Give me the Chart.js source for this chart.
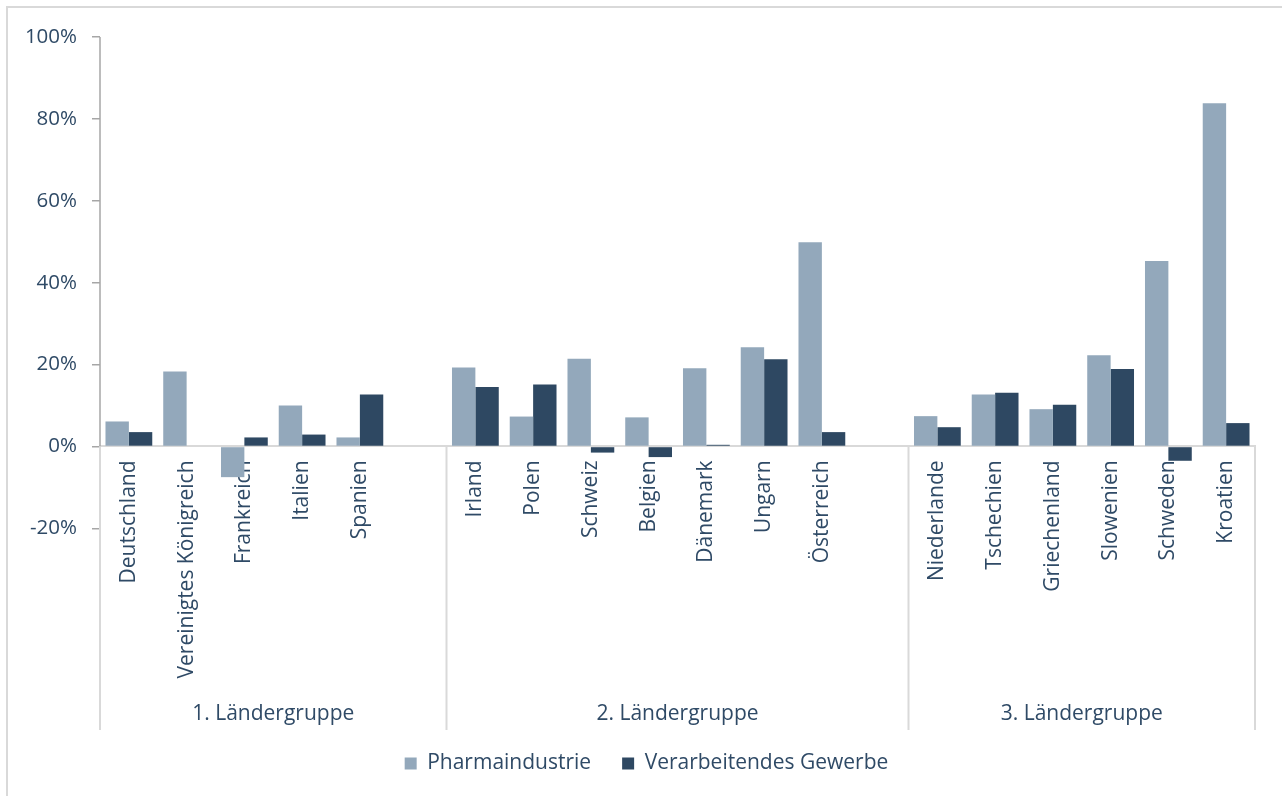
<!DOCTYPE html>
<html>
<head>
<meta charset="utf-8">
<script src="https://cdn.jsdelivr.net/npm/chart.js@4"></script>
<style>
  html, body { margin: 0; padding: 0; background: #fff; }
  #wrap { position: relative; width: 1282px; height: 796px; overflow: hidden; }
  #frame { position: absolute; left: 6px; top: 6px; width: 1290px; height: 800px;
           border-top: 2px solid #d9d9d9; border-left: 2px solid #d9d9d9; }
  canvas { position: absolute; left: 0; top: 0; }
</style>
</head>
<body>
<div id="wrap">
  <div id="frame"></div>
  <canvas id="chart" width="1282" height="796"></canvas>
</div>
<script>
// Kategorien (leere Einträge = Abstand zwischen den Gruppen)
const categories = [
  'Deutschland', 'Vereinigtes Königreich', 'Frankreich', 'Italien', 'Spanien', '',
  'Irland', 'Polen', 'Schweiz', 'Belgien', 'Dänemark', 'Ungarn', 'Österreich', '',
  'Niederlande', 'Tschechien', 'Griechenland', 'Slowenien', 'Schweden', 'Kroatien'
];
const pharma = [
  6.1, 18.3, -7.5, 10.0, 2.2, null,
  19.3, 7.3, 21.4, 7.1, 19.1, 24.2, 49.9, null,
  7.4, 12.7, 9.1, 22.3, 45.3, 83.8
];
const gewerbe = [
  3.5, null, 2.2, 2.9, 12.7, null,
  14.5, 15.1, -1.5, -2.6, 0.4, 21.3, 3.5, null,
  4.7, 13.1, 10.2, 18.9, -3.5, 5.7
];
const groupLabels = ['1. Ländergruppe', '2. Ländergruppe', '3. Ländergruppe'];
const groupSizes = [6, 8, 6];
const seriesNames = ['Pharmaindustrie', 'Verarbeitendes Gewerbe'];

const textColor = '#2f4a66';
const font = { family: "'Open Sans', sans-serif", size: 21 };
const yFont = { family: "'Open Sans', sans-serif", size: 20.5 };

// Gruppentrenner, Gruppennamen und y-Achsenlinie
const groupAxis = {
  id: 'groupAxis',
  afterLayout(chart) {
    // Legende etwas nach rechts, wie im Original
    chart.legend.left += 38;
  },
  afterDraw(chart) {
    const { ctx, chartArea } = chart;
    const xs = chart.scales.x, ys = chart.scales.y;
    const y0 = ys.getPixelForValue(0);
    const yEnd = chartArea.bottom + 8;
    ctx.save();
    // y axis line above zero
    ctx.strokeStyle = '#a6a6a6';
    ctx.lineWidth = 1.5;
    ctx.beginPath();
    ctx.moveTo(xs.left, chartArea.top);
    ctx.lineTo(xs.left, y0);
    ctx.stroke();

    // boundaries
    const bounds = [xs.left];
    let idx = 0;
    groupSizes.forEach((n, g) => {
      idx += n;
      if (g === groupSizes.length - 1) bounds.push(xs.right);
      else bounds.push((xs.getPixelForValue(idx - 1) + xs.getPixelForValue(idx)) / 2);
    });
    ctx.strokeStyle = '#d9d9d9';
    ctx.lineWidth = 2;
    bounds.forEach(b => {
      ctx.beginPath();
      ctx.moveTo(b, y0);
      ctx.lineTo(b, yEnd);
      ctx.stroke();
    });
    ctx.fillStyle = textColor;
    ctx.font = font.size + 'px ' + font.family;
    ctx.textAlign = 'center';
    ctx.textBaseline = 'middle';
    groupLabels.forEach((lbl, g) => {
      ctx.fillText(lbl, (bounds[g] + bounds[g + 1]) / 2, chartArea.bottom - 8);
    });
    ctx.restore();
  }
};

new Chart(document.getElementById('chart'), {
  type: 'bar',
  data: {
    labels: categories,
    datasets: [
      { label: seriesNames[0], data: pharma, backgroundColor: '#93a8bb' },
      { label: seriesNames[1], data: gewerbe, backgroundColor: '#2e4862' }
    ]
  },
  options: {
    responsive: false,
    animation: false,
    categoryPercentage: 0.81,
    barPercentage: 1.0,
    layout: { padding: { top: 37, right: 27, bottom: 12, left: 0 } },
    plugins: {
      tooltip: { enabled: false },
      legend: {
        position: 'bottom',
        labels: { color: textColor, font: font, boxWidth: 12, boxHeight: 12, padding: 31 }
      }
    },
    scales: {
      x: {
        position: { y: 0 },
        grid: { display: false, drawTicks: false },
        border: { display: true, color: '#d9d9d9', width: 2 },
        ticks: { color: textColor, font: font, autoSkip: false, minRotation: 90, maxRotation: 90, padding: 14 }
      },
      y: {
        min: -67.3,
        max: 100,
        afterFit(scale) { scale.width = 100; },
        afterBuildTicks(scale) {
          scale.ticks = scale.ticks.filter(t => t.value >= -20 && t.value <= 100 && t.value % 20 === 0);
        },
        grid: { drawOnChartArea: false, tickLength: 8, color: '#a6a6a6', lineWidth: 1.5 },
        border: { display: false },
        ticks: { stepSize: 20, color: textColor, font: yFont, padding: 15, callback: v => v + '%' }
      }
    }
  },
  plugins: [groupAxis]
});
</script>
</body>
</html>
